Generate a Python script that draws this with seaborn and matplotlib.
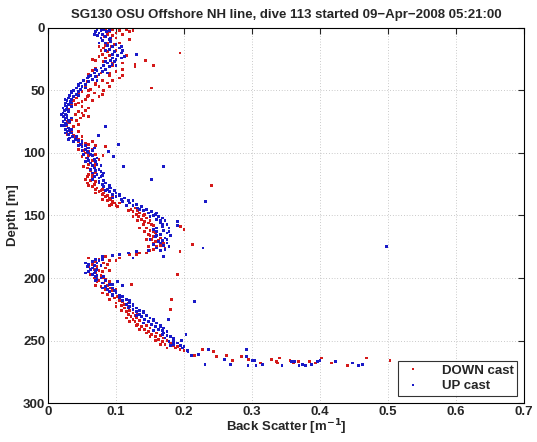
import numpy as np
import pandas as pd
import matplotlib
matplotlib.use("Agg")
import matplotlib.pyplot as plt
import seaborn as sns

# DOWN cast (red): depth [m], back scatter [1/m]
down_depth = [
    1, 1, 2, 1, 2, 0, 3, 4, 5, 6, 7, 8, 3,
    10, 12, 13, 14, 15, 16, 17, 18, 19, 20,
    21, 22, 23, 24, 25, 26, 26, 27, 28, 29, 30, 30, 31,
    32, 33, 34, 35, 36, 37, 38, 39, 40,
    41, 42, 43, 44, 45, 46, 47, 48, 49, 50,
    51, 52, 53, 54, 55, 56, 57, 58, 59, 60,
    62, 63, 65, 67, 68, 70, 72, 73, 75,
    76, 78, 80, 82, 84, 86, 88, 89,
    90, 91, 92, 93, 94, 95, 96, 97, 98, 99,
    100, 102, 102, 104, 106, 107, 109, 110, 112, 114, 115, 117, 118, 120,
    121, 122, 124, 125, 126, 127, 128, 129, 130, 131, 132, 133, 134, 135,
    136, 137, 138, 139, 140, 141, 142, 143,
    144, 145, 146, 147, 148, 149, 150, 151, 152, 153, 154, 155, 156, 157,
    158, 159, 160, 161, 162, 163, 164, 165, 166, 167, 168, 169, 170, 171,
    172, 173, 174, 175, 176, 177, 178, 179, 180, 180,
    181, 182, 183, 184, 185, 186, 187, 188, 189, 190, 191, 192, 193, 194,
    195, 196, 197, 198,
    199, 200, 201, 202, 203, 204, 205, 206, 207, 208, 209, 210, 211, 212,
    213, 214,
    215, 216, 217, 218, 219, 220, 221, 222, 223, 224, 225, 226, 227, 228,
    229, 230, 231, 232, 233, 234, 235, 236, 237, 238, 239, 240, 241, 242,
    243, 244,
    245, 246, 247, 248, 249, 250, 251, 252, 253, 254, 255, 256, 257, 257,
    258, 259,
    262, 263, 262, 266, 263, 265, 268, 265, 267, 268, 264, 266, 268, 267,
    267, 268, 264, 268, 270, 264, 266,
]
down_bs = [
    0.085, 0.095, 0.105, 0.115, 0.125, 0.135, 0.09, 0.1, 0.088, 0.095, 0.083, 0.1, 0.12,
    0.092, 0.088, 0.097, 0.085, 0.093, 0.082, 0.09, 0.078, 0.088, 0.194,
    0.08, 0.09, 0.075, 0.085, 0.1, 0.143, 0.07, 0.082, 0.11, 0.128, 0.155, 0.095, 0.128,
    0.07, 0.085, 0.065, 0.1, 0.078, 0.06, 0.09, 0.072, 0.105,
    0.065, 0.08, 0.058, 0.088, 0.07, 0.055, 0.075, 0.152, 0.062, 0.082,
    0.05, 0.068, 0.045, 0.06, 0.075, 0.042, 0.055, 0.038, 0.05, 0.045,
    0.035, 0.05, 0.03, 0.045, 0.05, 0.052, 0.048, 0.035, 0.028,
    0.032, 0.028, 0.03, 0.035, 0.033, 0.038, 0.04, 0.045,
    0.05, 0.045, 0.055, 0.06, 0.05, 0.084, 0.058, 0.065, 0.052, 0.06,
    0.055, 0.081, 0.06, 0.057, 0.065, 0.055, 0.06, 0.068, 0.058, 0.062, 0.07, 0.06, 0.066, 0.065,
    0.055, 0.062, 0.058, 0.068, 0.24, 0.065, 0.072, 0.07, 0.078, 0.075, 0.082, 0.08, 0.088, 0.085,
    0.09, 0.092, 0.088, 0.095, 0.098, 0.093, 0.1, 0.102,
    0.128, 0.122, 0.132, 0.125, 0.135, 0.13, 0.14, 0.133, 0.145, 0.138, 0.15, 0.142, 0.148, 0.14,
    0.155, 0.195, 0.145, 0.2, 0.15, 0.155, 0.158, 0.148, 0.16, 0.155, 0.165, 0.152, 0.162, 0.158,
    0.17, 0.212, 0.165, 0.16, 0.172, 0.155, 0.15, 0.194, 0.135, 0.145,
    0.12, 0.095, 0.085, 0.105, 0.075, 0.09, 0.07, 0.082, 0.065, 0.078, 0.072, 0.085, 0.068, 0.075,
    0.08, 0.07, 0.19, 0.078,
    0.072, 0.08, 0.085, 0.075, 0.09, 0.082, 0.123, 0.088, 0.078, 0.092, 0.085, 0.095, 0.09, 0.1,
    0.088, 0.095,
    0.102, 0.098, 0.182, 0.105, 0.11, 0.1, 0.112, 0.108, 0.118, 0.112, 0.18, 0.12, 0.115, 0.125,
    0.118, 0.128, 0.122, 0.13, 0.125, 0.135, 0.128, 0.14, 0.132, 0.145, 0.138, 0.15, 0.142, 0.155,
    0.148, 0.16,
    0.152, 0.165, 0.158, 0.17, 0.162, 0.175, 0.168, 0.18, 0.172, 0.185, 0.19, 0.188, 0.194, 0.227,
    0.2, 0.243,
    0.216, 0.248, 0.263, 0.271, 0.284, 0.295, 0.313, 0.329, 0.336, 0.338, 0.341, 0.356, 0.361, 0.368,
    0.385, 0.393, 0.402, 0.417, 0.441, 0.468, 0.503,
]
# more DOWN cast samples filling the width of the band
down_depth_more = [
    5, 9, 12, 15, 18, 22, 25, 28, 33, 36, 38, 42, 44, 47, 50, 53, 55, 58,
    61, 64, 66, 69, 71, 74, 77, 79, 81, 83, 85, 87,
    91, 94, 97, 101, 103, 105, 108, 111, 113, 116, 119,
    123, 126, 129, 132, 134, 137, 140, 142,
    146, 149, 151, 154, 157, 160, 163, 166, 169, 172, 175, 178, 181,
    184, 186, 189, 191, 194, 197, 200, 203, 206, 209, 212,
    217, 220, 223, 226, 229, 232, 235, 238, 241, 244, 247, 250, 253, 256,
]
down_bs_more = [
    0.11, 0.12, 0.105, 0.075, 0.1, 0.115, 0.065, 0.095, 0.11, 0.09, 0.11, 0.095, 0.07, 0.09, 0.06, 0.08, 0.058, 0.065,
    0.04, 0.06, 0.055, 0.04, 0.06, 0.042, 0.045, 0.038, 0.025, 0.045, 0.028, 0.05,
    0.065, 0.07, 0.045, 0.07, 0.05, 0.075, 0.07, 0.052, 0.075, 0.068, 0.058,
    0.07, 0.06, 0.08, 0.07, 0.095, 0.08, 0.105, 0.09,
    0.118, 0.142, 0.125, 0.132, 0.152, 0.135, 0.142, 0.15, 0.145, 0.155, 0.148, 0.165, 0.13,
    0.06, 0.1, 0.088, 0.06, 0.09, 0.062, 0.068, 0.072, 0.07, 0.1, 0.08,
    0.09, 0.118, 0.1, 0.108, 0.132, 0.115, 0.12, 0.13, 0.135, 0.145, 0.15, 0.158, 0.165, 0.175,
]

# UP cast (blue)
up_depth = [
    0, 1, 2, 1, 3, 4, 5, 6, 7, 8, 9, 3,
    10, 11, 12, 13, 14, 15, 16, 17, 18, 19, 20, 21, 22, 23, 24,
    25, 26, 27, 28, 29, 30, 31, 32, 33, 34, 35, 36, 37, 38, 39, 40, 41, 42,
    43, 44, 45,
    46, 47, 48, 49, 50, 51, 52, 53, 54, 55, 56, 57, 58, 59, 60, 61, 62,
    63, 64, 65, 66, 67, 68, 69, 70, 71, 72, 73, 74, 75, 76, 77, 78, 79, 80,
    81, 82, 83, 84, 85, 86, 87, 88,
    89, 90, 91, 92, 93, 93, 94, 95, 96, 97, 98, 99, 99,
    100, 101, 102, 103, 104, 105, 106, 107, 108, 109, 110, 111, 111, 112,
    113, 114, 115, 116, 117, 118, 119, 120, 121, 122,
    123, 124, 125, 126, 127, 128, 129, 130, 131, 132, 133, 134, 135, 136,
    137, 138, 139, 139,
    140, 141, 142, 143, 144, 145, 146, 147, 148, 149, 150, 151, 152, 153,
    154, 155, 156, 157, 158, 159, 160, 161, 162, 163, 164, 165, 166, 167,
    168, 169, 170, 171, 172, 173, 174, 175, 176, 176, 177, 178, 179, 180,
    181, 182,
    183, 183, 184, 185, 186, 187, 188, 189, 190, 191, 192, 193, 194, 195,
    196, 197, 198,
    199, 200, 201, 202, 203, 204, 205, 206, 207, 208, 209, 210, 211, 212,
    213, 214,
    215, 216, 217, 218, 219, 220, 221, 222, 223, 224, 225, 226, 227, 228,
    229, 230, 231, 232, 233, 233, 234, 235, 236, 237, 238, 239, 240, 241,
    242, 243,
    244, 245, 246, 247, 248, 249, 250, 251, 252, 253, 254, 255, 256, 257,
    258, 259,
    261, 262, 265, 269, 269, 257, 263, 266, 270, 270, 266, 269, 270, 267,
    267, 270, 269, 270, 269, 267, 266, 267, 268, 270, 269,
]
up_bs = [
    0.068, 0.072, 0.078, 0.082, 0.07, 0.075, 0.08, 0.073, 0.085, 0.078, 0.09, 0.086,
    0.08, 0.092, 0.085, 0.1, 0.088, 0.095, 0.105, 0.09, 0.11, 0.098, 0.108, 0.13, 0.102, 0.112, 0.095,
    0.1, 0.092, 0.098, 0.088, 0.094, 0.082, 0.09, 0.078, 0.085, 0.072, 0.08, 0.068, 0.075, 0.062,
    0.07, 0.058, 0.065, 0.052, 0.06, 0.048, 0.055,
    0.045, 0.05, 0.042, 0.048, 0.038, 0.045, 0.035, 0.042, 0.032, 0.038, 0.03, 0.035, 0.028, 0.033,
    0.026, 0.03, 0.025,
    0.028, 0.022, 0.027, 0.024, 0.03, 0.022, 0.026, 0.028, 0.023, 0.027, 0.025, 0.03, 0.022, 0.026,
    0.028, 0.024, 0.084, 0.03, 0.026, 0.032, 0.028, 0.034, 0.03, 0.074, 0.036, 0.032,
    0.04, 0.045, 0.038, 0.05, 0.104, 0.048, 0.055, 0.05, 0.06, 0.055, 0.065, 0.089, 0.058,
    0.06, 0.052, 0.065, 0.096, 0.058, 0.068, 0.06, 0.07, 0.062, 0.072, 0.065, 0.111, 0.17, 0.068,
    0.075, 0.07, 0.078, 0.065, 0.072, 0.08, 0.068, 0.075, 0.152, 0.082,
    0.075, 0.085, 0.08, 0.09, 0.082, 0.092, 0.088, 0.098, 0.09, 0.1, 0.095, 0.105, 0.1, 0.112,
    0.108, 0.118, 0.232, 0.11,
    0.12, 0.13, 0.125, 0.138, 0.132, 0.145, 0.14, 0.152, 0.148, 0.158, 0.155, 0.162, 0.168, 0.16,
    0.172, 0.19, 0.165, 0.175, 0.19, 0.168, 0.178, 0.155, 0.17, 0.16, 0.175, 0.165, 0.18, 0.158,
    0.172, 0.15, 0.168, 0.162, 0.175, 0.155, 0.17, 0.498, 0.228, 0.16, 0.172, 0.148, 0.13, 0.118,
    0.105, 0.095,
    0.17, 0.08, 0.125, 0.07, 0.075, 0.065, 0.072, 0.06, 0.068, 0.058, 0.065, 0.062, 0.07, 0.06,
    0.068, 0.065, 0.072,
    0.07, 0.078, 0.072, 0.085, 0.102, 0.08, 0.09, 0.11, 0.085, 0.095, 0.088, 0.098, 0.09, 0.1,
    0.095, 0.105,
    0.11, 0.105, 0.115, 0.11, 0.215, 0.12, 0.115, 0.125, 0.12, 0.13, 0.125, 0.135, 0.13, 0.14,
    0.135, 0.145, 0.138, 0.15, 0.177, 0.142, 0.155, 0.148, 0.16, 0.152, 0.165, 0.158, 0.17, 0.162,
    0.168, 0.175,
    0.17, 0.203, 0.175, 0.18, 0.172, 0.185, 0.196, 0.178, 0.19, 0.185, 0.195, 0.2, 0.198, 0.236,
    0.205, 0.206,
    0.221, 0.211, 0.259, 0.231, 0.268, 0.292, 0.292, 0.3, 0.294, 0.306, 0.304, 0.315, 0.344, 0.358,
    0.363, 0.369, 0.374, 0.379, 0.388, 0.396, 0.4, 0.423, 0.448, 0.457, 0.463,
]
# more UP cast samples filling the width of the band
up_depth_more = [
    2, 5, 8, 12, 15, 18, 21, 24, 27, 30, 33, 36, 39, 42, 45, 48, 51, 54,
    57, 60, 63, 66, 69, 72, 75, 78, 81, 84, 87, 89,
    91, 94, 96, 98, 101, 104, 107, 110, 113, 116, 119, 121,
    124, 127, 130, 133, 136, 138,
    142, 145, 148, 151, 154, 157, 160, 163, 166, 169, 172, 175, 178,
    185, 188, 190, 193, 196, 199, 202, 205, 208, 211, 214,
    218, 221, 224, 227, 230, 233, 236, 239, 242, 245, 248, 251, 254,
]
up_bs_more = [
    0.09, 0.068, 0.092, 0.075, 0.108, 0.085, 0.095, 0.108, 0.085, 0.1, 0.07, 0.088, 0.06, 0.072, 0.045, 0.055, 0.035, 0.045,
    0.025, 0.035, 0.035, 0.03, 0.02, 0.035, 0.032, 0.02, 0.035, 0.025, 0.042, 0.03,
    0.05, 0.045, 0.068, 0.05, 0.062, 0.072, 0.055, 0.078, 0.062, 0.082, 0.078, 0.065,
    0.075, 0.09, 0.085, 0.105, 0.095, 0.125,
    0.115, 0.135, 0.16, 0.15, 0.165, 0.168, 0.16, 0.178, 0.16, 0.175, 0.165, 0.178, 0.165,
    0.08, 0.055, 0.078, 0.072, 0.055, 0.082, 0.07, 0.095, 0.08, 0.1, 0.095,
    0.12, 0.125, 0.118, 0.14, 0.13, 0.155, 0.14, 0.165, 0.155, 0.168, 0.185, 0.185, 0.18,
]

x_ticks = [0, 0.1, 0.2, 0.3, 0.4, 0.5, 0.6, 0.7]
x_tick_labels = ["0", "0.1", "0.2", "0.3", "0.4", "0.5", "0.6", "0.7"]
y_ticks = [0, 50, 100, 150, 200, 250, 300]

df = pd.concat([
    pd.DataFrame({"depth": down_depth + down_depth_more, "bs": down_bs + down_bs_more,
                  "cast": "DOWN cast"}),
    pd.DataFrame({"depth": up_depth + up_depth_more, "bs": up_bs + up_bs_more,
                  "cast": "UP cast"}),
])

sns.set_style("white")
plt.rcParams["font.family"] = ["Liberation Sans", "DejaVu Sans"]
plt.rcParams["font.weight"] = "bold"
plt.rcParams["mathtext.default"] = "bf"

fig = plt.figure(figsize=(5.37, 4.42), dpi=100)
ax = fig.add_axes([0.0894, 0.0882, 0.8864, 0.8485])

sns.scatterplot(data=df, x="bs", y="depth", hue="cast",
                palette={"DOWN cast": "#d41a1a", "UP cast": "#1a1ac8"},
                s=4, marker="s", linewidth=0, ax=ax)

ax.set_xlim(0, 0.7)
ax.set_ylim(300, 0)
ax.set_xticks(x_ticks)
ax.set_xticklabels(x_tick_labels)
ax.set_yticks(y_ticks)
ax.grid(True, linestyle=(0, (1, 3)), color="#999999", linewidth=0.5)
ax.tick_params(direction="in", top=True, right=True, labelsize=9.5, length=4, pad=2)
for sp in ax.spines.values():
    sp.set_color("black")
    sp.set_linewidth(0.8)

ax.set_xlabel(r"Back Scatter [m$^{-1}$]", fontsize=9.5, fontweight="bold", labelpad=0)
ax.set_ylabel("Depth [m]", fontsize=9.5, fontweight="bold", labelpad=3)
ax.set_title("SG130 OSU Offshore NH line, dive 113 started 09-Apr-2008 05:21:00".replace("-", "\u2212"),
             fontsize=9.5, fontweight="bold", pad=7)

leg = ax.legend(loc="lower right", fontsize=9.5, frameon=True, fancybox=False,
                markerscale=1.0, borderaxespad=0.5, handletextpad=1.4, borderpad=0.3,
                labelspacing=0.25, handlelength=1.6)
leg.get_frame().set_edgecolor("black")
leg.get_frame().set_linewidth(0.8)
for t in leg.get_texts():
    t.set_fontweight("bold")

fig.savefig("out.png", dpi=100)
